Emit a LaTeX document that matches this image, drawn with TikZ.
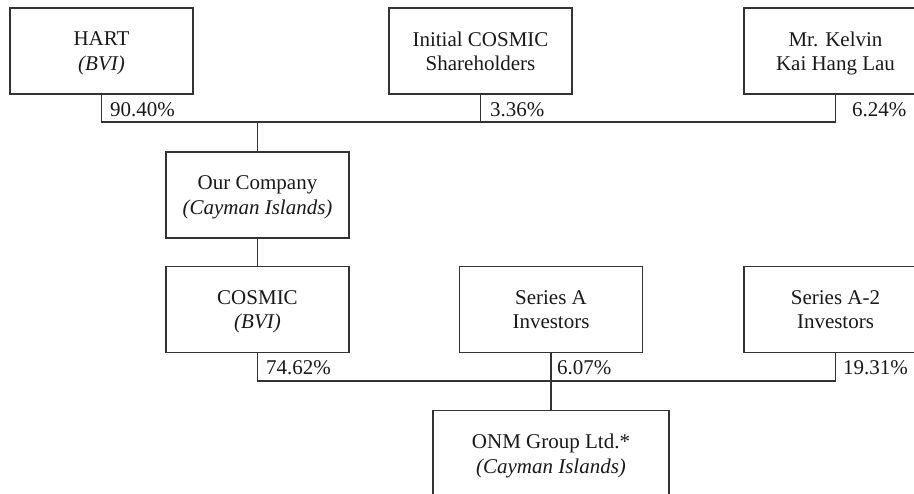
\documentclass[tikz,border=0pt]{standalone}
\usepackage{fontspec}
\setmainfont{Liberation Serif}
\begin{document}
\begin{tikzpicture}[x=1pt,y=-1pt,
  entity/.style={draw=black!80, line width=1.2pt, minimum width=183pt, minimum height=86pt,
    inner sep=0pt, text depth=0pt, align=center, font=\fontsize{21}{24.5}\selectfont, text=black!90},
  pct/.style={anchor=base west, inner sep=0pt, font=\fontsize{21}{24}\selectfont, text=black!90},
  link/.style={draw=black!80, line width=1.2pt}]
\useasboundingbox (0,0) rectangle (914,494);
\clip (0,0) rectangle (914,494);
% top row
\node[entity] (hart)   at (101.5,51) {HART\\\textit{(BVI)}};
\node[entity] (ics)    at (480.5,51) {Initial COSMIC\\Shareholders};
\node[entity] (kelvin) at (835.5,51) {Mr. Kelvin\\Kai Hang Lau};
% middle
\node[entity] (ourco)  at (257.5,195) {Our Company\\\textit{(Cayman Islands)}};
% third row
\node[entity] (cosmic) at (257.5,309.5) {COSMIC\\\textit{(BVI)}};
\node[entity] (sera)   at (551,309.5) {Series A\\Investors};
\node[entity] (sera2)  at (835.5,309.5) {Series A-2\\Investors};
% bottom
\node[entity, minimum width=236pt] (onm) at (551,453.5) {ONM Group Ltd.*\\\textit{(Cayman Islands)}};
% buses
\coordinate (bus1) at (257.5,122);
\coordinate (bus2) at (551,381);
\draw[link] (hart.south) |- (bus1) -| (kelvin.south);
\draw[link] (ics.south) |- (bus1);
\draw[link] (bus1) -- (ourco.north);
\draw[link] (ourco.south) -- (cosmic.north);
\draw[link] (cosmic.south) |- (bus2) -| (sera2.south);
\draw[link] (sera.south) -- (onm.north);
% percentages
\node[pct] (p1) at (110,117) {90.40\%};
\node[pct] (p2) at (490,117) {3.36\%};
\node[pct] (p3) at (852,117) {6.24\%};
\node[pct] (p4) at (266,375) {74.62\%};
\node[pct] (p5) at (557,375) {6.07\%};
\node[pct] (p6) at (843,375) {19.31\%};
\end{tikzpicture}
\end{document}
